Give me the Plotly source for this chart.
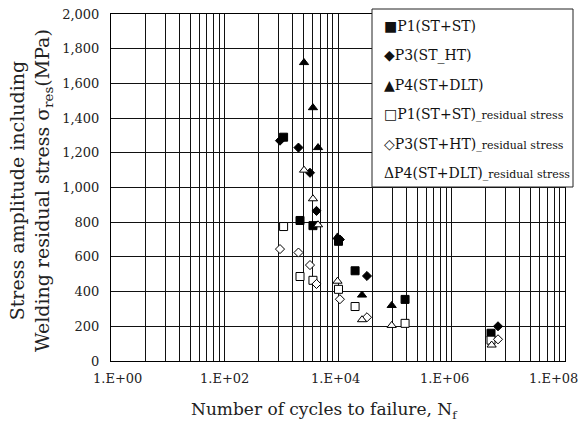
import math
import plotly.graph_objects as go

# ---------------- data ----------------
series_names = ["P1(ST+ST)", "P3(ST_HT)", "P4(ST+DLT)",
                "P1(ST+ST)", "P3(ST+HT)", "P4(ST+DLT)"]
series_suffix = ["", "", "", "_residual stress", "_residual stress", "_residual stress"]
legend_glyphs = ["■", "◆", "▲", "□", "◇", "Δ"]

p1_N = [1.10e3, 2.14e3, 3.62e3, 1.02e4, 2.00e4, 1.52e5, 4.97e6]
p1_S = [1290, 810, 780, 690, 520, 355, 160]
p1_res = [775, 487, 465, 413, 314, 217, 120]

p3_N = [9.5e2, 2.01e3, 3.21e3, 4.18e3, 1.08e4, 3.24e4, 6.6e6]
p3_S = [1270, 1230, 1085, 865, 700, 490, 200]
p3_res = [645, 625, 553, 444, 356, 252, 125]

p4_N = [2.52e3, 3.62e3, 4.45e3, 9.8e3, 2.65e4, 8.83e4]
p4_S = [1720, 1460, 1230, 715, 380, 320]
p4_res_N = [2.52e3, 3.62e3, 4.45e3, 9.8e3, 2.65e4, 8.83e4, 5.1e6]
p4_res = [1100, 935, 785, 460, 238, 205, 92]

x_tickvals = [1, 1e2, 1e4, 1e6, 1e8]
x_ticktext = ["1.E+00", "1.E+02", "1.E+04", "1.E+06", "1.E+08"]
y_tickvals = list(range(0, 2001, 200))

# ---------------- layout constants ----------------
W, H = 578, 423
L, R, T, B = 111, 565, 14, 361
FONT = "DejaVu Serif"

def fx(px):
    return (px - L) / (R - L)

def fy(py):
    return (B - py) / (B - T)

fig = go.Figure()

styles = [
    dict(symbol="square", color="black", line=dict(color="black", width=1)),
    dict(symbol="diamond", color="black", line=dict(color="black", width=1)),
    dict(symbol="triangle-up", color="black", line=dict(color="black", width=1)),
    dict(symbol="square", color="white", line=dict(color="black", width=1)),
    dict(symbol="diamond", color="white", line=dict(color="black", width=1)),
    dict(symbol="triangle-up", color="white", line=dict(color="black", width=1)),
]
xs = [p1_N, p3_N, p4_N, p1_N, p3_N, p4_res_N]
ys = [p1_S, p3_S, p4_S, p1_res, p3_res, p4_res]
sizes = [8, 7, 8, 8, 7, 8]

for i in range(6):
    fig.add_trace(go.Scatter(
        x=xs[i], y=ys[i], mode="markers",
        name=series_names[i] + series_suffix[i],
        marker=dict(size=sizes[i], **styles[i]),
        showlegend=False,
    ))

minor_vals = [100 ** k * m ** 2 for k in range(4) for m in range(2, 10)]

fig.update_xaxes(
    type="log", range=[0, 8],
    tickvals=x_tickvals, ticktext=x_ticktext, showticklabels=False,
    showgrid=True, gridcolor="#111", gridwidth=1,
    minor=dict(tickmode="array", tickvals=minor_vals, showgrid=True,
               gridcolor="#111", gridwidth=1, ticks=""),
    showline=True, linecolor="black", linewidth=1, mirror=True,
    zeroline=False, ticks="",
)
fig.update_yaxes(
    range=[0, 2000], tickvals=y_tickvals, tickformat=",d",
    showgrid=True, gridcolor="#111", gridwidth=1,
    showline=True, linecolor="black", linewidth=1, mirror=True,
    zeroline=False, ticks="", ticklabelstandoff=8,
    tickfont=dict(family=FONT, size=13, color="#222"),
)

annotations = []
# x tick labels (log axis: annotation x is given in log10 units)
x_label_shift = [6, 0, -3, -7, -12]
for v, t, s in zip(x_tickvals, x_ticktext, x_label_shift):
    annotations.append(dict(
        x=math.log10(v), y=0, xref="x", yref="paper", text=t, showarrow=False,
        xanchor="center", yanchor="middle", xshift=s, yshift=-(378 - B),
        font=dict(family=FONT, size=13, color="#222"),
    ))

# axis titles
annotations.append(dict(
    x=fx(324), y=fy(410), xref="paper", yref="paper", showarrow=False,
    text="Number of cycles to failure, N<sub>f</sub>",
    xanchor="center", yanchor="middle",
    font=dict(family=FONT, size=17, color="#222"),
))
annotations.append(dict(
    x=fx(31), y=fy(191), xref="paper", yref="paper", showarrow=False,
    text="Stress amplitude including<br>Welding residual stress σ<sub>res</sub>(MPa)",
    textangle=-90, xanchor="center", yanchor="middle", align="center",
    font=dict(family=FONT, size=19, color="#222"),
))

# legend (text box)
row_y = [26.5, 55.5, 84.5, 114.5, 143.5, 172.5]
for i in range(6):
    txt = legend_glyphs[i] + series_names[i]
    if series_suffix[i]:
        txt += "<span style='font-size:11px'>" + series_suffix[i] + "</span>"
    annotations.append(dict(
        x=fx(382), y=fy(row_y[i]), xref="paper", yref="paper", showarrow=False,
        text=txt, xanchor="left", yanchor="middle", align="left",
        font=dict(family=FONT, size=14, color="#111"),
    ))

fig.update_layout(
    width=W, height=H,
    margin=dict(l=L, r=W - R, t=T, b=H - B, autoexpand=False),
    paper_bgcolor="white", plot_bgcolor="white",
    annotations=annotations,
    shapes=[dict(type="rect", xref="paper", yref="paper",
                 x0=fx(372), x1=fx(573), y0=fy(187), y1=fy(9),
                 fillcolor="white", line=dict(color="#222", width=1),
                 layer="above")],
    font=dict(family=FONT),
)

fig.write_html("out.html")
